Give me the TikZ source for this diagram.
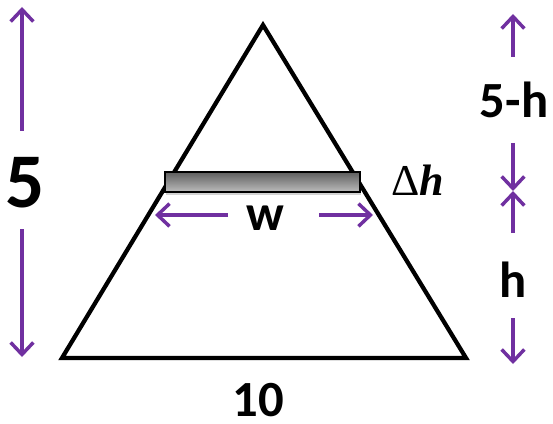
\documentclass[tikz,border=0pt]{standalone}
\usepackage{fontspec}
\setmainfont{Carlito}
\newfontfamily\mathlike{Liberation Serif}
\usetikzlibrary{arrows.meta,shadows}
\definecolor{DimPurple}{HTML}{7030A0}
\definecolor{BarDark}{HTML}{5E5E5E}
\definecolor{BarLight}{HTML}{BDBDBD}

\begin{document}
\begin{tikzpicture}[
  x=0.75pt, y=-0.75pt,
  edge/.style={line width=3.2pt, line join=miter},
  dim/.style={draw=DimPurple, line width=2.6pt, -{Straight Barb[length=9pt, width=17pt, line width=2.6pt]}},
  lbl/.style={font=\bfseries\fontsize{38}{40}\selectfont, inner sep=0pt}
]
\useasboundingbox (0,0) rectangle (553,424);
% triangle
\coordinate (apex) at (263,25);
\coordinate (bl) at (62,358);
\coordinate (br) at (466,358);
\draw[edge] (apex) -- (bl) -- (br) -- cycle;

% slice
\node[draw, line width=1pt, top color=BarDark, bottom color=BarLight, minimum width=195*0.75pt, minimum height=20*0.75pt, inner sep=0pt,
  drop shadow={opacity=0.35, shadow xshift=1pt, shadow yshift=-2pt}] (slice) at (262.5,182) {};
\node[inner sep=0pt, font=\mathlike\fontsize{33}{35}\selectfont] (dh) at (418,180) {Δ{\bfseries\itshape h}};

% width
\node[lbl] (w) at (265,218) {w};
\coordinate (wl) at (155,215);
\coordinate (wr) at (373,215);
\draw[dim] (228,215) -- (wl);
\draw[dim] (319,215) -- (wr);

% left height
\node[lbl, font=\bfseries\fontsize{58}{60}\selectfont] (five) at (25,183) {5};
\coordinate (ltop) at (22,7);
\coordinate (lbot) at (22,357);
\draw[dim] (22,131) -- (ltop);
\draw[dim] (22,229) -- (lbot);

% right heights
\node[lbl] (top) at (514,100) {5-h};
\node[lbl] (low) at (513,280) {h};
\coordinate (rtop) at (513,14);
\coordinate (rmid) at (513,191);
\coordinate (rbot) at (513,364);
\draw[dim] (513,57) -- (rtop);
\draw[dim] (513,143) -- (rmid);
\draw[dim] (513,233) -- (rmid);
\draw[dim] (513,318) -- (rbot);

% base
\node[lbl, font=\bfseries\fontsize{38}{40}\selectfont] (base) at (258,400) {10};
\end{tikzpicture}
\end{document}
